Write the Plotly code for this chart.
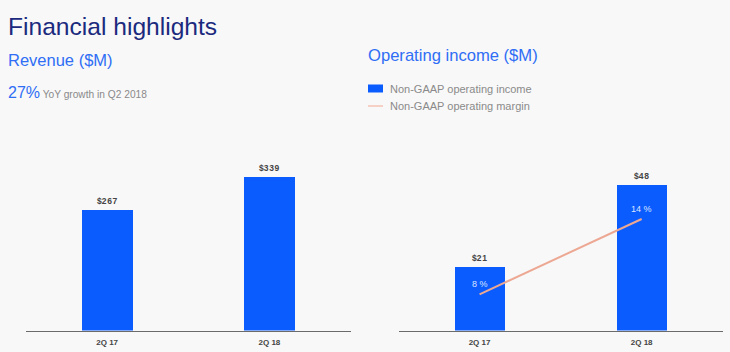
import plotly.graph_objects as go

W, H = 730, 352

quarters = ["2Q 17", "2Q 18"]
revenue = [267, 339]
op_income = [21, 48]
op_margin = [8, 14]

BLUE = "#0a5cff"
LINE = "#eda893"
BG = "#f8f8f8"
FONT = "Liberation Sans, Arial, sans-serif"

def px(x):
    return x / W

def py(y):
    return 1 - y / H

fig = go.Figure()

fig.add_trace(go.Bar(x=quarters, y=revenue, marker=dict(color=BLUE, line=dict(width=0)),
                     width=0.314, xaxis="x", yaxis="y", showlegend=False,
                     name="Revenue", hoverinfo="x+y"))
fig.add_trace(go.Bar(x=quarters, y=op_income, marker=dict(color=BLUE, line=dict(width=0)),
                     width=0.31, xaxis="x2", yaxis="y2", showlegend=False,
                     name="Non-GAAP operating income"))
fig.add_trace(go.Scatter(x=quarters, y=op_margin, mode="lines", line=dict(color=LINE, width=2),
                         xaxis="x2", yaxis="y3", showlegend=False,
                         name="Non-GAAP operating margin"))

ybot = py(330.5)
ytop = py(150)

annotations = []
# value labels
for q, v in zip(quarters, revenue):
    annotations.append(dict(x=q, y=v, xref="x", yref="y", text="<b>$" + "\u200a".join(str(v)) + "</b>",
                            showarrow=False, yanchor="bottom", yshift=2,
                            font=dict(family=FONT, size=8.5, color="#444444")))
for q, v in zip(quarters, op_income):
    annotations.append(dict(x=q, y=v, xref="x2", yref="y2", text="<b>$" + "\u200a".join(str(v)) + "</b>",
                            showarrow=False, yanchor="bottom", yshift=2,
                            font=dict(family=FONT, size=8.5, color="#444444")))
for q, v in zip(quarters, op_margin):
    annotations.append(dict(x=q, y=v, xref="x2", yref="y3", text=f"{v} %",
                            showarrow=False, yanchor="bottom", yshift=3,
                            font=dict(family=FONT, size=9, color="#dbe4ff")))

# titles
annotations += [
    dict(x=px(6), y=py(27), xref="paper", yref="paper", xanchor="left", yanchor="middle",
         text="Financial highlights", showarrow=False,
         font=dict(family=FONT, size=24.6, color="#1b2a7e")),
    dict(x=px(6), y=py(59.5), xref="paper", yref="paper", xanchor="left", yanchor="middle",
         text="Revenue ($M)", showarrow=False,
         font=dict(family=FONT, size=16.5, color="#2f6ef5")),
    dict(x=px(6), y=py(92.5), xref="paper", yref="paper", xanchor="left", yanchor="middle",
         text="<span style='font-size:16px;color:#2f6ef5'>27%</span> YoY growth in Q2 2018",
         showarrow=False, font=dict(family=FONT, size=10.2, color="#8a8a8a")),
    dict(x=px(366), y=py(56), xref="paper", yref="paper", xanchor="left", yanchor="middle",
         text="Operating income ($M)", showarrow=False,
         font=dict(family=FONT, size=16.6, color="#2f6ef5")),
    dict(x=px(388), y=py(88.5), xref="paper", yref="paper", xanchor="left", yanchor="middle",
         text="Non-GAAP operating income", showarrow=False,
         font=dict(family=FONT, size=11, color="#8a8a8a")),
    dict(x=px(388), y=py(106), xref="paper", yref="paper", xanchor="left", yanchor="middle",
         text="Non-GAAP operating margin", showarrow=False,
         font=dict(family=FONT, size=11, color="#8a8a8a")),
]

shapes = [
    dict(type="rect", xref="paper", yref="paper", x0=px(368), x1=px(383), y0=py(84.5), y1=py(92.5),
         fillcolor=BLUE, line=dict(width=0)),
    dict(type="line", xref="paper", yref="paper", x0=px(368), x1=px(383), y0=py(106), y1=py(106),
         line=dict(color="#f6c2b4", width=1.5)),
]

axis_common = dict(showgrid=False, zeroline=False, showline=True, linecolor="#6b6b6b", linewidth=1,
                   ticks="", ticklabelstandoff=4,
                   tickfont=dict(family=FONT, size=8, color="#444444", weight="bold"), fixedrange=True)
yaxis_common = dict(showgrid=False, zeroline=False, showline=False, showticklabels=False, fixedrange=True)

fig.update_layout(
    width=W, height=H,
    margin=dict(l=0, r=0, t=0, b=0),
    paper_bgcolor=BG, plot_bgcolor=BG,
    font=dict(family=FONT),
    bargap=0,
    xaxis=dict(domain=[px(26), px(350.5)], range=[-0.5, 1.5], anchor="y", **axis_common),
    yaxis=dict(domain=[ybot, ytop], range=[0, 180.5 / 0.453], anchor="x", **yaxis_common),
    xaxis2=dict(domain=[px(398.5), px(722.7)], range=[-0.5, 1.5], anchor="y2", **axis_common),
    yaxis2=dict(domain=[ybot, ytop], range=[0, 180.5 / 3.04], anchor="x2", **yaxis_common),
    yaxis3=dict(domain=[ybot, ytop], range=[5.115, 19.5], overlaying="y2", anchor="x2", **yaxis_common),
    annotations=annotations,
    shapes=shapes,
)

fig.write_html("out.html")
